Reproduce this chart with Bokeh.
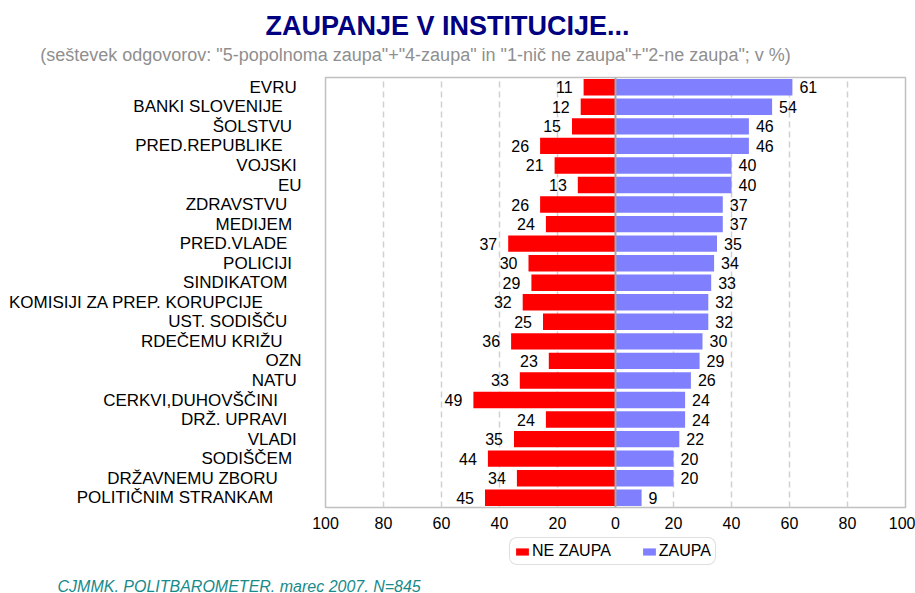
from bokeh.plotting import figure
from bokeh.layouts import column
from bokeh.models import FixedTicker, Span, Legend, LegendItem, ColumnDataSource
from bokeh.embed import file_html
from bokeh.resources import INLINE
from bokeh.core.properties import value

institutions = ["EVRU", "BANKI SLOVENIJE", "ŠOLSTVU", "PRED.REPUBLIKE", "VOJSKI", "EU",
                "ZDRAVSTVU", "MEDIJEM", "PRED.VLADE", "POLICIJI", "SINDIKATOM",
                "KOMISIJI ZA PREP. KORUPCIJE", "UST. SODIŠČU", "RDEČEMU KRIŽU", "OZN",
                "NATU", "CERKVI,DUHOVŠČINI", "DRŽ. UPRAVI", "VLADI", "SODIŠČEM",
                "DRŽAVNEMU ZBORU", "POLITIČNIM STRANKAM"]
ne_zaupa = [11, 12, 15, 26, 21, 13, 26, 24, 37, 30, 29, 32, 25, 36, 23, 33, 49, 24, 35, 44, 34, 45]
zaupa = [61, 54, 46, 46, 40, 40, 37, 37, 35, 34, 33, 32, 32, 30, 29, 26, 24, 24, 22, 20, 20, 9]
x_ticks = [-100, -80, -60, -40, -20, 0, 20, 40, 60, 80, 100]
x_tick_labels = ["100", "80", "60", "40", "20", "0", "20", "40", "60", "80", "100"]
series_names = ["NE ZAUPA", "ZAUPA"]
title_text = "ZAUPANJE V INSTITUCIJE..."
subtitle_text = '(seštevek odgovorov: "5-popolnoma zaupa"+"4-zaupa" in "1-nič ne zaupa"+"2-ne zaupa"; v %)'
footer_text = "CJMMK. POLITBAROMETER. marec 2007. N=845"

# trailing-space padding of the category labels (style only)
label_pad = [1, 4, 2, 4, 1, 0, 3, 2, 3, 2, 3, 8, 3, 4, 0, 1, 5, 3, 1, 2, 5, 6]

FONT = "Liberation Sans"
RED = "#FF0000"
BLUE = "#8080FF"
W = 915

n = len(institutions)
ypos = [n - 1 - i for i in range(n)]
src = ColumnDataSource(dict(
    y=ypos,
    neg=[-v for v in ne_zaupa],
    pos=zaupa,
    neg_txt=[str(v) for v in ne_zaupa],
    pos_txt=[str(v) for v in zaupa],
))


def bare(fig):
    fig.axis.visible = False
    fig.grid.visible = False
    fig.outline_line_color = None
    fig.background_fill_color = "white"
    fig.border_fill_color = "white"
    if "frame_align" in fig.properties():
        fig.frame_align = False


# ---------- header ----------
HEAD_H = 70
head = figure(width=W, height=HEAD_H, x_range=(0, W), y_range=(HEAD_H, 0),
              output_backend="svg", toolbar_location=None, title_location=None,
              min_border_left=0, min_border_right=0, min_border_top=0, min_border_bottom=0)
bare(head)
head.text(x=[447], y=[25.5], text=[title_text], text_align="center", text_baseline="middle",
          text_font=value(FONT), text_font_style="bold", text_font_size="27px",
          text_color="#000080")
head.text(x=[415], y=[54.5], text=[subtitle_text], text_align="center", text_baseline="middle",
          text_font=value(FONT), text_font_size="18px", text_color="#8f8f8f")

# ---------- main chart ----------
p = figure(width=W, height=465, x_range=(-100, 100), y_range=(-0.5, n - 0.5),
           output_backend="svg", toolbar_location=None, title_location=None,
           min_border_left=325, min_border_right=10, min_border_top=7, min_border_bottom=28)
if "frame_align" in p.properties():
    p.frame_align = False
p.outline_line_color = "#c0c0c0"
p.outline_line_width = 1.5
p.background_fill_color = "white"
p.border_fill_color = "white"

p.xgrid.ticker = FixedTicker(ticks=[t for t in x_ticks if abs(t) != 100 and t != 0])
p.xgrid.grid_line_color = "#d0d0d0"
p.xgrid.grid_line_width = 1.5
p.xgrid.grid_line_dash = "6 4"
p.ygrid.grid_line_color = None

p.hbar(y="y", left="neg", right=0, height=0.84, source=src, fill_color=RED, line_color=None)
p.hbar(y="y", left=0, right="pos", height=0.84, source=src, fill_color=BLUE, line_color=None)

p.add_layout(Span(location=0, dimension="height", line_color="#a8a8a8", line_width=2))

p.text(x="neg", y="y", text="neg_txt", source=src, text_align="right", text_baseline="middle",
       x_offset=-11, text_font=value(FONT), text_font_size="16px", text_color="black")
p.text(x="pos", y="y", text="pos_txt", source=src, text_align="left", text_baseline="middle",
       x_offset=7, text_font=value(FONT), text_font_size="16px", text_color="black")

p.xaxis.ticker = FixedTicker(ticks=x_ticks)
p.xaxis.major_label_overrides = {t: l for t, l in zip(x_ticks, x_tick_labels)}
p.xaxis.axis_line_color = None
p.xaxis.major_tick_line_color = None
p.xaxis.minor_tick_line_color = None
p.xaxis.major_label_standoff = 3
p.xaxis.major_label_text_font = FONT
p.xaxis.major_label_text_font_size = "16px"
p.xaxis.major_label_text_color = "black"

p.yaxis.ticker = FixedTicker(ticks=ypos)
p.yaxis.major_label_overrides = {ypos[i]: institutions[i] + "\u00a0" * label_pad[i] for i in range(n)}
p.yaxis.axis_line_color = None
p.yaxis.major_tick_line_color = None
p.yaxis.minor_tick_line_color = None
p.yaxis.major_label_standoff = 18
p.yaxis.major_label_text_font = FONT
p.yaxis.major_label_text_font_size = "17px"
p.yaxis.major_label_text_color = "black"

# ---------- legend + footer ----------
FOOT_H = 58
TOTAL_H = 593
foot = figure(width=W, height=FOOT_H, x_range=(0, W), y_range=(TOTAL_H, TOTAL_H - FOOT_H),
              output_backend="svg", toolbar_location=None, title_location=None,
              min_border_left=0, min_border_right=0, min_border_top=0, min_border_bottom=0)
bare(foot)
# hidden legend proxies (only their legend swatches are shown)
proxy_neg = foot.hbar(y=[TOTAL_H], left=[0], right=[0], height=0, fill_color=RED,
                      line_color=None, visible=False)
proxy_pos = foot.hbar(y=[TOTAL_H], left=[0], right=[0], height=0, fill_color=BLUE,
                      line_color=None, visible=False)
legend = Legend(items=[LegendItem(label=series_names[0], renderers=[proxy_neg]),
                       LegendItem(label=series_names[1], renderers=[proxy_pos])],
                orientation="horizontal", location=(509, 28),
                border_line_color="#c0c0c0", border_line_width=1.5,
                label_text_font=FONT, label_text_font_size="16px", label_text_color="black",
                glyph_width=16, glyph_height=9, spacing=30, padding=4,
                label_standoff=2, label_height=16, margin=0,
                inactive_fill_alpha=0.0)
if "border_radius" in Legend.properties():
    legend.border_radius = 8
foot.add_layout(legend, "center")
foot.text(x=[57], y=[585.5], text=[footer_text], text_align="left", text_baseline="middle",
          text_font=value(FONT), text_font_style="italic", text_font_size="16px",
          text_color="#178a8a")

layout = column(head, p, foot, spacing=0)
open("out.html", "w").write(file_html(layout, INLINE))
